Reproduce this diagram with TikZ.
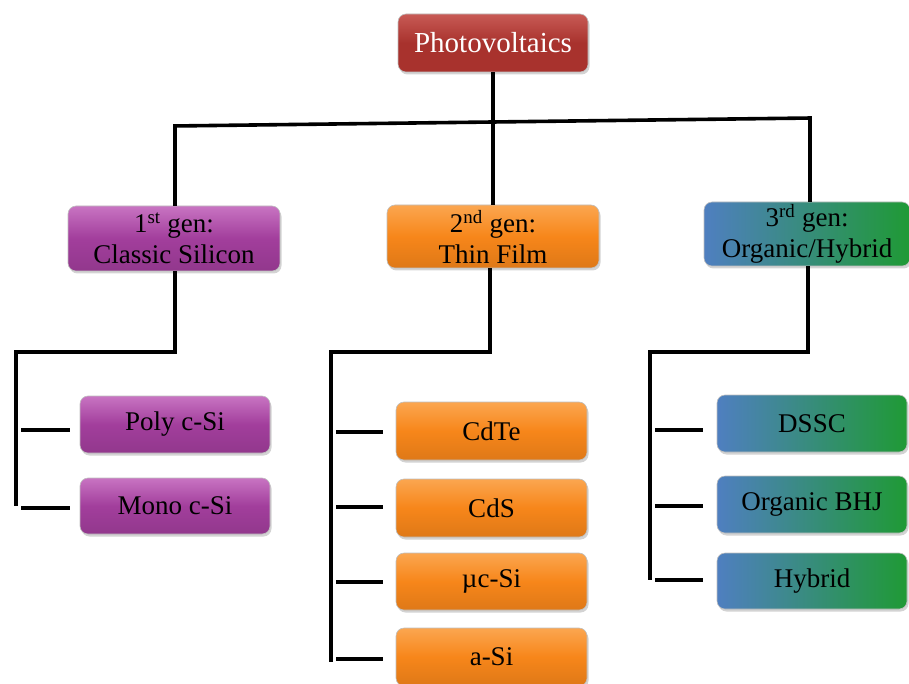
\documentclass[tikz,border=0pt]{standalone}
\usepackage{fontspec}
\setmainfont{Liberation Serif}
\usetikzlibrary{shadows}
\definecolor{pvred}{HTML}{A8322D}
\definecolor{pvredlt}{HTML}{C85A55}
\definecolor{gpurple}{HTML}{A23E9C}
\definecolor{gpurplelt}{HTML}{C874C2}
\definecolor{gorange}{HTML}{F7861A}
\definecolor{gorangelt}{HTML}{FBA650}
\definecolor{gblue}{HTML}{4F7FC0}
\definecolor{ggreen}{HTML}{1F9A35}
\tikzset{
  box/.style={rounded corners=8pt, inner sep=2pt, align=center,
    draw=black!25, line width=0.6pt,
    drop shadow={shadow xshift=1.5pt, shadow yshift=-2.5pt, opacity=0.35},
    font=\fontsize{27}{31}\selectfont},
  redbox/.style={box, top color=pvredlt, bottom color=pvred, middle color=pvred, text=white,
    font=\fontsize{29}{32}\selectfont},
  purplebox/.style={box, top color=gpurplelt, bottom color=gpurple!90!black, middle color=gpurple},
  orangebox/.style={box, top color=gorangelt, bottom color=gorange!90!black, middle color=gorange},
  bgbox/.style={box, left color=gblue, right color=ggreen, middle color=gblue!50!ggreen},
  link/.style={line width=3.6pt, black, line cap=butt},
}
\begin{document}
\begin{tikzpicture}[x=1pt,y=-1pt]
\useasboundingbox (0,0) rectangle (909,684);
\begin{scope}
\clip (0,0) rectangle (909,684);
% top
\node[redbox, minimum width=190pt, minimum height=58pt] (pv) at (493,43) {Photovoltaics};
% generations
\node[purplebox, minimum width=212pt, minimum height=65pt] (g1) at (174,238.5) {1\textsuperscript{st} gen:\\ Classic Silicon};
\node[orangebox, minimum width=212pt, minimum height=63pt] (g2) at (493,236.5) {2\textsuperscript{nd} gen:\\ Thin Film};
\node[bgbox, minimum width=206pt, minimum height=64pt] (g3) at (807,234) {3\textsuperscript{rd} gen:\\ Organic/Hybrid};
% leaves
\node[purplebox, minimum width=190pt, minimum height=57pt] (poly) at (175,424.5) {Poly c-Si};
\node[purplebox, minimum width=190pt, minimum height=56pt] (mono) at (175,506) {Mono c-Si};
\node[orangebox, minimum width=191pt, minimum height=58pt] (cdte) at (491.5,431) {CdTe};
\node[orangebox, minimum width=191pt, minimum height=58pt] (cds) at (491.5,508) {CdS};
\node[orangebox, minimum width=191pt, minimum height=57pt] (muc) at (491.5,581.5) {µc-Si};
\node[orangebox, minimum width=191pt, minimum height=58pt] (asi) at (491.5,657) {a-Si};
\node[bgbox, minimum width=190pt, minimum height=57pt] (dssc) at (812,423.5) {DSSC};
\node[bgbox, minimum width=190pt, minimum height=57pt] (bhj) at (812,504.5) {Organic BHJ};
\node[bgbox, minimum width=190pt, minimum height=56pt] (hyb) at (812,581) {Hybrid};
\end{scope}
% top connectors
\coordinate (hl) at (175,126);
\coordinate (hm) at (493,122);
\coordinate (hr) at (810,118);
\draw[link] (pv.south) -- (hm);
\draw[link] ([xshift=-1.8pt]hl) -- ([xshift=1.8pt]hr);
\draw[link] (hl) -- (g1.north -| hl);
\draw[link] (hm) -- (g2.north);
\draw[link] (hr) -- (g3.north -| hr);
% 1st gen branch
\coordinate (a1) at (175,352);
\coordinate (a2) at (16,352);
\coordinate (a3) at (16,508);
\draw[link] (g1.south -| a1) -- ([yshift=1.8pt]a1) ;
\draw[link] ([xshift=1.8pt]a1) -- ([xshift=-1.8pt]a2);
\draw[link] ([yshift=-1.8pt]a2) -- ([yshift=1.8pt]a3);
\coordinate (t1) at (21,430);
\coordinate (t2) at (21,508);
\draw[link] (t1) -- ([xshift=-10pt]poly.west |- t1);
\draw[link] (t2) -- ([xshift=-10pt]mono.west |- t2);
% 2nd gen branch
\coordinate (b1) at (490,352);
\coordinate (b2) at (331,352);
\coordinate (b3) at (331,662);
\draw[link] (g2.south -| b1) -- ([yshift=1.8pt]b1);
\draw[link] ([xshift=1.8pt]b1) -- ([xshift=-1.8pt]b2);
\draw[link] ([yshift=-1.8pt]b2) -- (b3);
\foreach \n/\y in {cdte/432,cds/507,muc/582,asi/659}{
  \coordinate (tt) at (336,\y);
  \draw[link] (tt) -- ([xshift=-13pt]\n.west |- tt);
}
% 3rd gen branch
\coordinate (c1) at (808,352);
\coordinate (c2) at (650,352);
\coordinate (c3) at (650,582);
\draw[link] (g3.south -| c1) -- ([yshift=1.8pt]c1);
\draw[link] ([xshift=1.8pt]c1) -- ([xshift=-1.8pt]c2);
\draw[link] ([yshift=-1.8pt]c2) -- ([yshift=1.8pt]c3);
\foreach \n/\y in {dssc/430,bhj/506,hyb/580}{
  \coordinate (tt) at (655,\y);
  \draw[link] (tt) -- ([xshift=-14pt]\n.west |- tt);
}
\end{tikzpicture}
\end{document}
